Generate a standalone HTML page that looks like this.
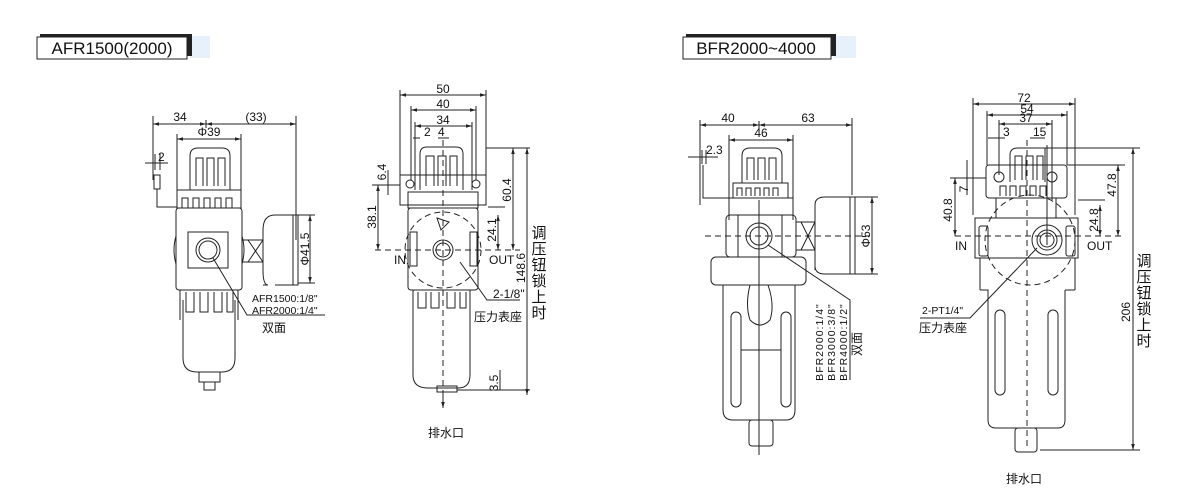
<!DOCTYPE html>
<html><head><meta charset="utf-8"><style>
html,body{margin:0;padding:0;background:#fff;}
svg{display:block;}
text{font-family:"Liberation Sans","Noto Sans CJK SC",sans-serif;fill:#111;}
</style></head><body>
<svg width="1200" height="500" viewBox="0 0 1200 500" xmlns="http://www.w3.org/2000/svg">
<defs>
<marker id="a" viewBox="0 0 10 10" refX="10" refY="5" markerWidth="6" markerHeight="6" orient="auto-start-reverse"><path d="M0,2 L10,5 L0,8 z" fill="#222"/></marker>
</defs>
<!-- titles -->
<rect x="190" y="36" width="20" height="22" fill="#e6f1fb"/>
<rect x="40" y="34" width="152" height="22" fill="#222"/>
<rect x="37" y="37" width="150" height="22" fill="#fff" stroke="#222" stroke-width="1"/>
<text x="112" y="54" font-size="17" text-anchor="middle">AFR1500(2000)</text>
<rect x="834" y="36" width="22" height="22" fill="#e6f1fb"/>
<rect x="686" y="34" width="150" height="22" fill="#222"/>
<rect x="683" y="37" width="148" height="22" fill="#fff" stroke="#222" stroke-width="1"/>
<text x="756" y="54" font-size="17" text-anchor="middle">BFR2000~4000</text>

<g fill="none" stroke="#222" stroke-width="1">
<!-- ===== Drawing 1 ===== -->
<line x1="153" y1="116" x2="153" y2="180"/><line x1="296" y1="116" x2="296" y2="240"/>
<line x1="153" y1="124" x2="206" y2="124" marker-start="url(#a)" marker-end="url(#a)"/>
<line x1="206" y1="124" x2="296" y2="124" marker-start="url(#a)" marker-end="url(#a)"/>
<line x1="206" y1="120" x2="206" y2="128"/>
<line x1="177" y1="134" x2="177" y2="190"/><line x1="241" y1="134" x2="241" y2="190"/>
<line x1="177" y1="139" x2="241" y2="139" marker-start="url(#a)" marker-end="url(#a)"/>
<line x1="145" y1="163" x2="168" y2="163"/><line x1="155" y1="154" x2="155" y2="170"/><line x1="160" y1="154" x2="160" y2="170"/>
<rect x="154" y="175" width="6" height="14"/>
<path d="M157,189 L157,207 L177,207"/>
<path d="M190,190 L190,156 Q190,148 198,148 L222,148 Q230,148 230,156 L230,190"/>
<path d="M196,186 V158 H203 V186 M207,186 V158 H214 V186 M218,186 V158 H225 V186"/>
<rect x="177" y="190" width="64" height="18"/>
<path d="M182,208 v-10 h6 v10 M193,208 v-10 h6 v10 M204,208 v-10 h6 v10 M215,208 v-10 h6 v10 M226,208 v-10 h6 v10"/>
<rect x="176" y="208" width="66" height="82" rx="3"/>
<rect x="188" y="232" width="40" height="36"/>
<circle cx="208" cy="250" r="12"/><circle cx="208" cy="250" r="9"/>
<path d="M176,236 q-4,14 0,28 M242,236 q4,14 0,28"/>
<rect x="242" y="240" width="21" height="22"/><path d="M248,240 L263,262 M248,262 L263,240"/>
<path d="M263,285 L268,285 Q263,285 263,270 L263,230 Q263,215 275,215 L298,215 L298,285 L275,285"/>
<line x1="293" y1="215" x2="293" y2="285"/>
<line x1="298" y1="215" x2="315" y2="215"/><line x1="298" y1="283" x2="315" y2="283"/>
<line x1="310" y1="215" x2="310" y2="283" marker-start="url(#a)" marker-end="url(#a)"/>
<path d="M180,290 V320 M238,290 V320 M186,292 v20 h8 v-20 M200,292 v20 h8 v-20 M214,292 v20 h8 v-20 M227,292 v20 h6 v-20"/>
<path d="M183,300 L183,358 Q183,372 197,372 L222,372 Q235,372 235,358 L235,300"/>
<rect x="199" y="372" width="21" height="10"/><rect x="204" y="382" width="11" height="8"/>
<path d="M213,258 L247,315 L325,315"/>

<!-- ===== Drawing 2 ===== -->
<line x1="400" y1="90" x2="400" y2="175"/><line x1="486" y1="90" x2="486" y2="175"/>
<line x1="400" y1="95" x2="486" y2="95" marker-start="url(#a)" marker-end="url(#a)"/>
<line x1="411" y1="106" x2="411" y2="180"/><line x1="476" y1="106" x2="476" y2="180"/>
<line x1="411" y1="110" x2="476" y2="110" marker-start="url(#a)" marker-end="url(#a)"/>
<line x1="415" y1="122" x2="415" y2="190"/><line x1="472" y1="122" x2="472" y2="190"/>
<line x1="415" y1="126" x2="472" y2="126" marker-start="url(#a)" marker-end="url(#a)"/>
<line x1="413" y1="138" x2="420" y2="138"/><line x1="438" y1="138" x2="449" y2="138"/>
<path d="M420,190 V154 Q420,147 427,147 L456,147 Q463,147 463,154 V190"/>
<path d="M426,186 V156 H434 V186 M438,186 V156 H446 V186 M450,186 V156 H457 V186"/>
<rect x="400" y="175" width="86" height="30"/>
<circle cx="410" cy="184" r="4"/><circle cx="476" cy="184" r="4"/>
<rect x="408" y="192" width="70" height="16"/>
<rect x="408" y="208" width="70" height="82" rx="3"/>
<circle cx="443" cy="250" r="10"/><circle cx="443" cy="250" r="7"/>
<circle cx="443" cy="250" r="38" stroke-dasharray="6,4"/>
<rect x="410" y="232" width="7" height="34"/><rect x="470" y="232" width="7" height="34"/>
<path d="M437,218 l12,4 l-8,8 z"/>
<path d="M413,290 V375 Q413,388 428,388 L458,388 Q470,388 470,375 V290"/>
<path d="M418,292 v16 h8 v-16 M431,292 v16 h8 v-16 M447,292 v16 h8 v-16 M460,292 v16 h6 v-16"/>
<rect x="437" y="386" width="20" height="6"/>
<line x1="443" y1="140" x2="443" y2="395" stroke-dasharray="6,4"/>
<line x1="375" y1="250" x2="520" y2="250" stroke-dasharray="6,4"/>
<line x1="443" y1="395" x2="443" y2="408" marker-end="url(#a)"/>
<line x1="372" y1="185" x2="400" y2="185"/>
<line x1="378" y1="185" x2="378" y2="250" marker-start="url(#a)" marker-end="url(#a)"/>
<line x1="388" y1="170" x2="388" y2="195"/>
<line x1="486" y1="148" x2="530" y2="148"/>
<line x1="513" y1="148" x2="513" y2="250" marker-start="url(#a)" marker-end="url(#a)"/>
<line x1="488" y1="207" x2="505" y2="207"/>
<line x1="498" y1="215" x2="498" y2="250" marker-start="url(#a)" marker-end="url(#a)"/>
<line x1="527" y1="148" x2="527" y2="395" marker-start="url(#a)" marker-end="url(#a)"/>
<line x1="457" y1="390" x2="530" y2="390"/>
<line x1="500" y1="370" x2="500" y2="390"/>
<path d="M460,262 L487,300 L520,300"/>

<!-- ===== Drawing 3 ===== -->
<line x1="700" y1="120" x2="700" y2="205"/><line x1="852" y1="118" x2="852" y2="195"/>
<line x1="700" y1="125" x2="759" y2="125" marker-start="url(#a)" marker-end="url(#a)"/>
<line x1="759" y1="125" x2="852" y2="125" marker-start="url(#a)" marker-end="url(#a)"/>
<line x1="759" y1="121" x2="759" y2="129"/>
<line x1="729" y1="135" x2="729" y2="220"/><line x1="793" y1="135" x2="793" y2="220"/>
<line x1="729" y1="140" x2="793" y2="140" marker-start="url(#a)" marker-end="url(#a)"/>
<line x1="688" y1="157" x2="718" y2="157"/><line x1="702" y1="150" x2="702" y2="164"/><line x1="706" y1="150" x2="706" y2="164"/>
<path d="M703,165 V198 H733"/>
<path d="M742,183 V156 Q742,148 750,148 L774,148 Q782,148 782,156 V183"/>
<path d="M747,180 V158 H754 V180 M758,180 V158 H765 V180 M769,180 V158 H776 V180"/>
<rect x="733" y="183" width="55" height="15"/>
<path d="M737,196 v-8 h5 v8 M746,196 v-8 h5 v8 M755,196 v-8 h5 v8 M764,196 v-8 h5 v8 M773,196 v-8 h5 v8"/>
<rect x="729" y="198" width="64" height="17"/>
<rect x="726" y="215" width="70" height="42" rx="4"/>
<rect x="738" y="215" width="44" height="42"/>
<circle cx="759" cy="236" r="13"/><circle cx="759" cy="236" r="9"/>
<rect x="711" y="257" width="95" height="28" rx="5"/>
<path d="M723,285 V410 Q723,420 733,420 L786,420 Q795,420 795,410 V285"/>
<path d="M750,285 Q745,305 750,320 Q760,330 770,320 Q775,305 768,285"/>
<rect x="731" y="312" width="10" height="95" rx="5"/><rect x="781" y="312" width="10" height="95" rx="5"/>
<line x1="741" y1="350" x2="781" y2="350"/>
<rect x="749" y="420" width="24" height="26" rx="3"/>
<line x1="759" y1="200" x2="759" y2="455"/>
<line x1="705" y1="236" x2="870" y2="236" stroke-dasharray="6,4"/>
<rect x="796" y="222" width="19" height="28"/><path d="M801,222 L815,250 M801,250 L815,222"/>
<path d="M815,270 V205 Q815,197 825,197 L855,197 L855,274 L825,274 Q815,274 815,266"/>
<line x1="850" y1="197" x2="850" y2="274"/>
<line x1="855" y1="197" x2="878" y2="197"/><line x1="855" y1="274" x2="878" y2="274"/>
<line x1="872" y1="197" x2="872" y2="274" marker-start="url(#a)" marker-end="url(#a)"/>
<path d="M768,245 L850,300 L850,380"/>

<!-- ===== Drawing 4 ===== -->
<line x1="973" y1="98" x2="973" y2="215"/><line x1="1075" y1="98" x2="1075" y2="215"/>
<line x1="973" y1="104" x2="1075" y2="104" marker-start="url(#a)" marker-end="url(#a)"/>
<line x1="987" y1="111" x2="987" y2="165"/><line x1="1067" y1="111" x2="1067" y2="165"/>
<line x1="987" y1="115" x2="1067" y2="115" marker-start="url(#a)" marker-end="url(#a)"/>
<line x1="999" y1="120" x2="999" y2="175"/><line x1="1052" y1="120" x2="1052" y2="200"/>
<line x1="999" y1="124" x2="1052" y2="124" marker-start="url(#a)" marker-end="url(#a)"/>
<line x1="988" y1="138" x2="1005" y2="138"/><line x1="1030" y1="138" x2="1045" y2="138"/>
<path d="M1010,182 V155 Q1010,148 1018,148 L1045,148 V182"/>
<path d="M1015,180 V156 H1022 V180 M1026,180 V156 H1033 V180 M1037,180 V156 H1043 V180"/>
<rect x="986" y="165" width="81" height="33" rx="3"/>
<circle cx="999" cy="177" r="5"/><circle cx="1052" cy="177" r="5"/>
<path d="M1000,196 v-10 h6 v10 M1010,196 v-10 h6 v10 M1020,196 v-10 h6 v10 M1030,196 v-10 h6 v10 M1040,196 v-10 h6 v10"/>
<rect x="996" y="198" width="60" height="20"/>
<path d="M975,218 H1078 V258 H975 Z"/>
<rect x="979" y="226" width="9" height="30" rx="2"/><rect x="1066" y="226" width="9" height="30" rx="2"/>
<circle cx="1047" cy="240" r="15"/><circle cx="1047" cy="240" r="10"/><circle cx="1047" cy="240" r="7"/>
<circle cx="1030" cy="240" r="45" stroke-dasharray="6,4"/>
<path d="M980,258 V290 M1075,258 V290 M980,290 H988 V295 M1075,290 H1065"/>
<path d="M988,295 V420 Q988,428 996,428 L1058,428 Q1065,428 1065,420 V290"/>
<rect x="995" y="310" width="10" height="85" rx="5"/><rect x="1048" y="310" width="10" height="85" rx="5"/>
<rect x="1015" y="428" width="22" height="24" rx="3"/>
<line x1="1027" y1="140" x2="1027" y2="450" stroke-dasharray="6,4"/>
<line x1="1047" y1="145" x2="1047" y2="245"/>
<line x1="955" y1="236" x2="1125" y2="236" stroke-dasharray="6,4"/>
<line x1="950" y1="178" x2="986" y2="178"/>
<line x1="955" y1="178" x2="955" y2="236" marker-start="url(#a)" marker-end="url(#a)"/>
<line x1="967" y1="160" x2="967" y2="195"/>
<line x1="1067" y1="165" x2="1125" y2="165"/>
<line x1="1118" y1="165" x2="1118" y2="236" marker-start="url(#a)" marker-end="url(#a)"/>
<line x1="1078" y1="200" x2="1105" y2="200"/>
<line x1="1100" y1="205" x2="1100" y2="236" marker-start="url(#a)" marker-end="url(#a)"/>
<line x1="1045" y1="148" x2="1140" y2="148"/>
<line x1="1040" y1="450" x2="1140" y2="450"/>
<line x1="1133" y1="148" x2="1133" y2="450" marker-start="url(#a)" marker-end="url(#a)"/>
<path d="M1037,248 L970,318 L920,318"/>
</g>

<g font-size="12">
<!-- D1 -->
<text x="180" y="121" text-anchor="middle">34</text>
<text x="256" y="121" text-anchor="middle">(33)</text>
<text x="209" y="136" text-anchor="middle">Φ39</text>
<text x="158" y="161">2</text>
<text x="309" y="249" transform="rotate(-90 309 249)" text-anchor="middle">Φ41.5</text>
<text x="252" y="302" font-size="10.5">AFR1500:1/8"</text>
<text x="252" y="314" font-size="10.5">AFR2000:1/4"</text>
<text x="262" y="332">双面</text>
<!-- D2 -->
<text x="443" y="93" text-anchor="middle">50</text>
<text x="443" y="108" text-anchor="middle">40</text>
<text x="443" y="124" text-anchor="middle">34</text>
<text x="424" y="136">2</text><text x="438" y="136">4</text>
<text x="386" y="172" transform="rotate(-90 386 172)" text-anchor="middle">6.4</text>
<text x="376" y="217" transform="rotate(-90 376 217)" text-anchor="middle">38.1</text>
<text x="511" y="190" transform="rotate(-90 511 190)" text-anchor="middle">60.4</text>
<text x="496" y="230" transform="rotate(-90 496 230)" text-anchor="middle">24.1</text>
<text x="525" y="268" transform="rotate(-90 525 268)" text-anchor="middle">148.6</text>
<text x="498" y="383" transform="rotate(-90 498 383)" text-anchor="middle">3.5</text>
<text x="394" y="264">IN</text>
<text x="489" y="264">OUT</text>
<text x="493" y="298">2-1/8"</text>
<text x="474" y="321">压力表座</text>
<text x="428" y="437">排水口</text>
<g font-size="15" text-anchor="middle">
<text x="539" y="238">调</text><text x="539" y="254">压</text><text x="539" y="270">钮</text>
<text x="539" y="286">锁</text><text x="539" y="302">上</text><text x="539" y="318">时</text>
</g>
<!-- D3 -->
<text x="728" y="122" text-anchor="middle">40</text>
<text x="808" y="122" text-anchor="middle">63</text>
<text x="761" y="137" text-anchor="middle">46</text>
<text x="706" y="154">2.3</text>
<text x="870" y="236" transform="rotate(-90 870 236)" text-anchor="middle">Φ53</text>
<text x="823" y="342" transform="rotate(-90 823 342)" text-anchor="middle" font-size="10.5" letter-spacing="1">BFR2000:1/4"</text>
<text x="835" y="342" transform="rotate(-90 835 342)" text-anchor="middle" font-size="10.5" letter-spacing="1">BFR3000:3/8"</text>
<text x="847" y="342" transform="rotate(-90 847 342)" text-anchor="middle" font-size="10.5" letter-spacing="1">BFR4000:1/2"</text>
<text x="861" y="344" transform="rotate(-90 861 344)" text-anchor="middle">双面</text>
<!-- D4 -->
<text x="1024" y="102" text-anchor="middle">72</text>
<text x="1027" y="113" text-anchor="middle">54</text>
<text x="1026" y="122" text-anchor="middle">37</text>
<text x="1003" y="136">3</text><text x="1033" y="136">15</text>
<text x="968" y="189" transform="rotate(-90 968 189)" text-anchor="middle">7</text>
<text x="952" y="210" transform="rotate(-90 952 210)" text-anchor="middle">40.8</text>
<text x="1116" y="185" transform="rotate(-90 1116 185)" text-anchor="middle">47.8</text>
<text x="1098" y="220" transform="rotate(-90 1098 220)" text-anchor="middle">24.8</text>
<text x="1130" y="312" transform="rotate(-90 1130 312)" text-anchor="middle">206</text>
<text x="955" y="250">IN</text>
<text x="1087" y="250">OUT</text>
<text x="922" y="314" font-size="10.5">2-PT1/4"</text>
<text x="919" y="332">压力表座</text>
<text x="1006" y="483">排水口</text>
<g font-size="15" text-anchor="middle">
<text x="1144" y="266">调</text><text x="1144" y="282">压</text><text x="1144" y="298">钮</text>
<text x="1144" y="314">锁</text><text x="1144" y="330">上</text><text x="1144" y="346">时</text>
</g>
</g>
</svg>
</body></html>
